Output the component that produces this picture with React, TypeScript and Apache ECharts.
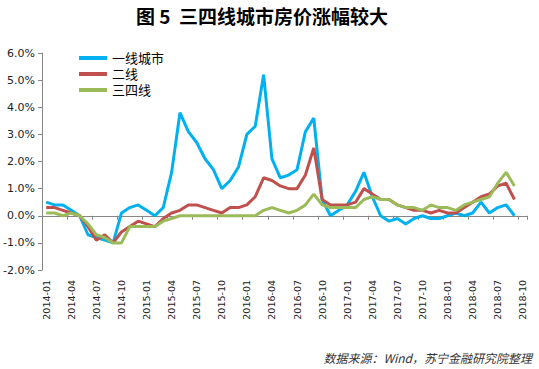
import React, { useEffect, useRef } from "react";
import * as echarts from "echarts";

const months = [
  "2014-01", "2014-02", "2014-03", "2014-04", "2014-05", "2014-06", "2014-07", "2014-08", "2014-09", "2014-10", "2014-11", "2014-12",
  "2015-01", "2015-02", "2015-03", "2015-04", "2015-05", "2015-06", "2015-07", "2015-08", "2015-09", "2015-10", "2015-11", "2015-12",
  "2016-01", "2016-02", "2016-03", "2016-04", "2016-05", "2016-06", "2016-07", "2016-08", "2016-09", "2016-10", "2016-11", "2016-12",
  "2017-01", "2017-02", "2017-03", "2017-04", "2017-05", "2017-06", "2017-07", "2017-08", "2017-09", "2017-10", "2017-11", "2017-12",
  "2018-01", "2018-02", "2018-03", "2018-04", "2018-05", "2018-06", "2018-07", "2018-08", "2018-09", "2018-10",
];

const tier1 = [
  0.5, 0.4, 0.4, 0.2, 0.0, -0.7, -0.8, -0.9, -1.0, 0.1, 0.3, 0.4,
  0.2, 0.0, 0.3, 1.6, 3.8, 3.1, 2.7, 2.1, 1.7, 1.0, 1.3, 1.8,
  3.0, 3.3, 5.2, 2.1, 1.4, 1.5, 1.7, 3.1, 3.6, 0.6, 0.0, 0.2,
  0.4, 0.9, 1.6, 0.7, 0.0, -0.2, -0.1, -0.3, -0.1, 0.0, -0.1, -0.1,
  0.0, 0.1, 0.0, 0.1, 0.5, 0.1, 0.3, 0.4, 0.0, null,
];

const tier2 = [
  0.3, 0.3, 0.2, 0.1, 0.0, -0.4, -0.9, -0.7, -1.0, -0.6, -0.4, -0.2,
  -0.3, -0.4, -0.1, 0.1, 0.2, 0.4, 0.4, 0.3, 0.2, 0.1, 0.3, 0.3,
  0.4, 0.7, 1.4, 1.3, 1.1, 1.0, 1.0, 1.5, 2.5, 0.6, 0.4, 0.4,
  0.4, 0.5, 1.0, 0.8, 0.6, 0.6, 0.4, 0.3, 0.2, 0.2, 0.1, 0.2,
  0.1, 0.1, 0.3, 0.5, 0.7, 0.8, 1.1, 1.2, 0.6, null,
];

const tier34 = [
  0.1, 0.1, 0.0, 0.1, 0.0, -0.3, -0.7, -0.8, -1.0, -1.0, -0.4, -0.4,
  -0.4, -0.4, -0.2, -0.1, 0.0, 0.0, 0.0, 0.0, 0.0, 0.0, 0.0, 0.0,
  0.0, 0.0, 0.2, 0.3, 0.2, 0.1, 0.2, 0.4, 0.8, 0.4, 0.3, 0.3,
  0.3, 0.3, 0.6, 0.7, 0.6, 0.6, 0.4, 0.3, 0.3, 0.2, 0.4, 0.3,
  0.3, 0.2, 0.4, 0.5, 0.6, 0.7, 1.2, 1.6, 1.1, null,
];

const seriesNames = ["一线城市", "二线", "三四线"];
const seriesColors = ["#00B0F0", "#C0504D", "#9BBB59"];
const titleText = "图 5  三四线城市房价涨幅较大";
const sourceText = "数据来源：Wind，苏宁金融研究院整理";

export default function App() {
  const ref = useRef<HTMLDivElement>(null);
  useEffect(() => {
    const chart = echarts.init(ref.current!, null, { renderer: "svg" });
    const data = [tier1, tier2, tier34];
    chart.setOption({
      animation: false,
      backgroundColor: "#ffffff",
      grid: { left: 42, right: 12, top: 53, bottom: 99, containLabel: false },
      legend: {
        orient: "vertical",
        left: 79,
        top: 50,
        padding: 0,
        itemWidth: 28,
        itemHeight: 4,
        itemGap: 0,
        icon: "rect",
        data: seriesNames,
        textStyle: {
          fontSize: 13,
          lineHeight: 16,
          color: "#000",
          fontFamily: '"Liberation Sans", "Noto Sans CJK SC", sans-serif',
        },
      },
      xAxis: [
        {
          type: "category",
          data: months,
          position: "bottom",
          boundaryGap: true,
          axisLine: { show: true, onZero: true, lineStyle: { color: "#868686", width: 1 } },
          axisTick: { show: true, interval: 2, length: 4, lineStyle: { color: "#868686" } },
          axisLabel: { show: false },
          splitLine: { show: false },
        },
        {
          type: "category",
          data: months,
          position: "bottom",
          boundaryGap: true,
          axisLine: { show: false, onZero: false },
          axisTick: { show: false },
          splitLine: { show: false },
          axisLabel: {
            interval: 2,
            rotate: 90,
            fontSize: 9.5,
            margin: 10,
            color: "#222",
            fontFamily: "DejaVu Sans",
          },
        },
      ],
      yAxis: {
        type: "value",
        min: -2,
        max: 6,
        interval: 1,
        axisLine: { show: true, lineStyle: { color: "#868686", width: 1 } },
        axisTick: { show: true, length: 4, lineStyle: { color: "#868686" } },
        splitLine: { show: false },
        axisLabel: {
          formatter: (v: number) => v.toFixed(1) + "%",
          fontSize: 11,
          margin: 7,
          color: "#222",
          fontFamily: "DejaVu Sans",
        },
      },
      series: seriesNames.map((name, i) => ({
        name,
        type: "line",
        xAxisIndex: 0,
        data: data[i],
        symbol: "none",
        smooth: false,
        connectNulls: false,
        lineStyle: { color: seriesColors[i], width: 3 },
        itemStyle: { color: seriesColors[i] },
      })),
      graphic: [
        {
          type: "text",
          x: 262,
          y: 15,
          style: {
            text: titleText,
            fontSize: 19,
            fontWeight: "bold",
            fontFamily: "Noto Sans CJK SC",
            fill: "#000",
            textAlign: "center",
            textVerticalAlign: "middle",
          },
        },
        {
          type: "text",
          x: 532,
          y: 357,
          style: {
            text: sourceText,
            fontSize: 12,
            fontStyle: "italic",
            fontFamily: "Noto Sans CJK SC",
            fill: "#333",
            textAlign: "right",
            textVerticalAlign: "middle",
          },
        },
      ],
    });
    return () => chart.dispose();
  }, []);
  return (
    <div
      ref={ref}
      style={{ width: 539, height: 369, position: "absolute", left: 0, top: 0 }}
    />
  );
}
